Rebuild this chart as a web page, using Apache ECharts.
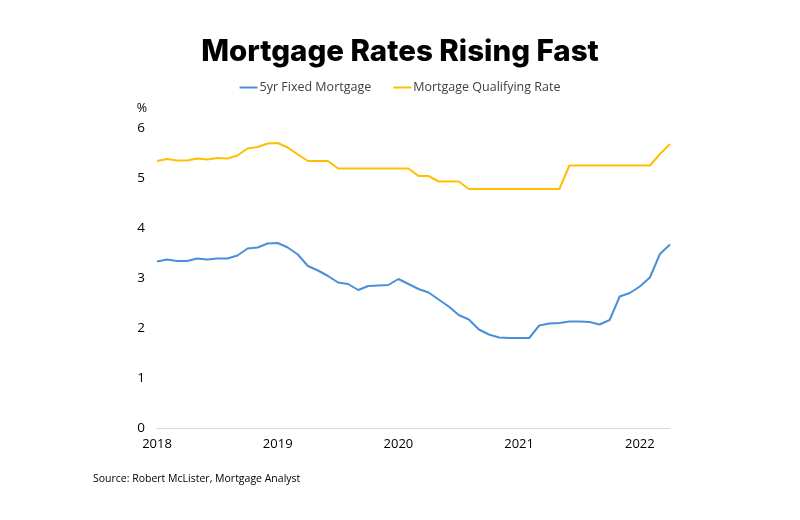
<!DOCTYPE html>
<html><head><meta charset="utf-8">
<script src="https://cdn.jsdelivr.net/npm/echarts@6/dist/echarts.min.js"></script>
<style>html,body{margin:0;padding:0;background:#fff}#c{width:800px;height:520px}</style>
</head><body><div id="c"></div>
<script>
// Monthly, Jan 2018 .. Apr 2022
const months = [];
for (let y = 2018; y <= 2022; y++) for (let m = 1; m <= 12; m++) { if (y === 2022 && m > 4) break; months.push(y + '-' + String(m).padStart(2, '0')); }
const yearTicks = ['2018', '2019', '2020', '2021', '2022'];
const fixed5yr = [3.33,3.37,3.34,3.34,3.39,3.37,3.39,3.39,3.45,3.59,3.61,3.69,
  3.70,3.61,3.47,3.24,3.15,3.04,2.91,2.88,2.76,2.84,2.85,2.86,
  2.98,2.88,2.78,2.71,2.57,2.43,2.26,2.17,1.97,1.87,1.81,1.80,
  1.80,1.80,2.05,2.09,2.10,2.13,2.13,2.12,2.07,2.16,2.63,2.70,
  2.83,3.01,3.48,3.67];
const qualifying = [5.34,5.38,5.35,5.35,5.39,5.37,5.40,5.39,5.45,5.59,5.62,5.69,
  5.70,5.61,5.47,5.34,5.34,5.34,5.19,5.19,5.19,5.19,5.19,5.19,
  5.19,5.19,5.04,5.04,4.93,4.93,4.93,4.78,4.78,4.78,4.78,4.78,
  4.78,4.78,4.78,4.78,4.78,5.25,5.25,5.25,5.25,5.25,5.25,5.25,
  5.25,5.25,5.48,5.68];

const chart = echarts.init(document.getElementById('c'));
chart.setOption({
  backgroundColor: '#fff',
  animation: false,
  title: {
    text: 'Mortgage Rates Rising Fast', left: 'center', top: 32,
    textStyle: { fontFamily: 'Inter', fontWeight: 800, fontSize: 29.5, color: '#000' }
  },
  legend: {
    top: 76, left: 'center', itemGap: 22, itemWidth: 18, itemHeight: 2,
    icon: 'rect',
    textStyle: { fontFamily: 'Open Sans', fontSize: 12.5, color: '#404040', padding: [0,0,0,-3] },
    data: ['5yr Fixed Mortgage', 'Mortgage Qualifying Rate']
  },
  grid: { left: 157, right: 130, top: 128, bottom: 92 },
  xAxis: {
    type: 'category', data: months, boundaryGap: false,
    axisLine: { lineStyle: { color: '#d9d9d9', width: 1 } },
    axisTick: { show: false },
    axisLabel: { interval: 11, margin: 10, fontFamily: 'Open Sans', fontSize: 13, color: '#000',
      formatter: v => v.slice(0, 4) }
  },
  yAxis: {
    type: 'value', min: 0, max: 6, interval: 1,
    name: '%', nameLocation: 'end', nameGap: 13,
    nameTextStyle: { fontFamily: 'Open Sans', fontSize: 12.5, color: '#000', align: 'right', padding: [0, 10, 0, 0] },
    splitLine: { show: false },
    axisLine: { show: false }, axisTick: { show: false },
    axisLabel: { margin: 12, fontFamily: 'Open Sans', fontSize: 13.5, color: '#000' }
  },
  series: [
    { name: '5yr Fixed Mortgage', type: 'line', data: fixed5yr, showSymbol: false,
      lineStyle: { color: '#4A90D9', width: 2 }, itemStyle: { color: '#4A90D9' } },
    { name: 'Mortgage Qualifying Rate', type: 'line', data: qualifying, showSymbol: false,
      lineStyle: { color: '#FFBF00', width: 2 }, itemStyle: { color: '#FFBF00' } }
  ],
  graphic: [{ type: 'text', left: 93, top: 474,
    style: { text: 'Source: Robert McLister, Mortgage Analyst', font: '10.5px "Open Sans"', fill: '#000' } }]
});
</script></body></html>
